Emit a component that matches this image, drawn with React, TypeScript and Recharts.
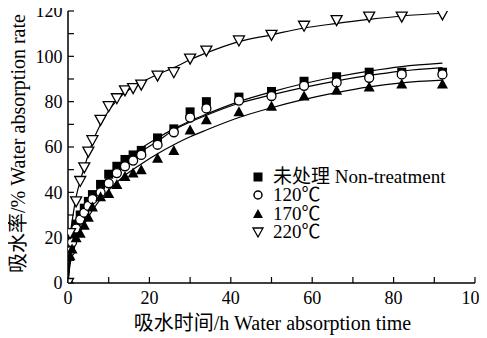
import React from 'react';
import { ComposedChart, Line, Scatter, XAxis, YAxis, Legend } from 'recharts';

// measured sample times (h)
const timesMain = [0, 0.5, 1, 2, 3, 4, 5, 6, 8, 10, 12, 14, 16, 18, 22, 26, 30, 34, 42, 50, 58, 66, 74, 82, 92];
const times220 = [0, 0.5, 2, 3, 4, 5, 6, 8, 10, 12, 14, 16, 18, 22, 26, 30, 34, 42, 50, 58, 66, 74, 82, 92];

// measured water absorption rate (%)
const nonTreatment = [0, 16.5, 20, 26, 30, 33, 36, 39, 43.5, 48, 51.5, 54.5, 56.5, 58.5, 64, 68, 75.5, 80, 82, 84.5, 89, 91, 93, 93, 93];
const t120 = [0, 14, 18, 24, 28, 31, 34, 37, 40, 44, 48.5, 51.5, 54, 56.5, 61, 66.5, 73, 77, 80.5, 82.5, 87, 88.5, 90.5, 92, 92];
const t170 = [0, 12, 15, 20, 22, 25.5, 29, 33.5, 38, 39.5, 43.5, 47, 48.5, 50, 55, 58.5, 67.5, 72, 75.5, 78, 82.5, 85, 86.5, 87.8, 87.8];
const t220 = [0, 22, 36, 45, 51, 58, 63, 72, 78, 81.5, 85, 86, 87.5, 91.5, 93, 99, 102.5, 107, 109.5, 113.5, 116, 117.5, 117.5, 118.5];

// fitted curves
const fitTimes = [0, 0.5, 1, 2, 3, 4, 6, 8, 10, 14, 18, 22, 26, 30, 34, 42, 50, 58, 66, 74, 82, 92];
const fitNon = [0, 11, 16, 23, 28, 32, 38, 43, 47, 54, 59.5, 64, 68, 71.5, 74.5, 80, 84.3, 88, 91, 93.5, 95.5, 97];
const fit120 = [0, 10.5, 15, 22, 27, 31, 37, 42, 46, 52.5, 58, 62.5, 67.5, 71, 74, 79.3, 83, 86.3, 89.2, 91.6, 93.5, 95];
const fit170 = [0, 8, 12, 18, 22.5, 26, 32, 37, 41, 47.5, 52.5, 57, 61, 64.5, 67.5, 73, 77.3, 81, 84, 86.5, 88.3, 89.5];
const fit220 = [0, 20, 27, 38, 45, 51, 62, 70, 76, 84, 88.5, 92, 95, 98.5, 101.5, 106.5, 109.5, 112.5, 114.5, 116.3, 117.8, 119];

const xTicks = [0, 10, 20, 30, 40, 50, 60, 70, 80, 90, 100];
const yTicks = [0, 10, 20, 30, 40, 50, 60, 70, 80, 90, 100, 110, 120];
const legendLabels = ['未处理 Non-treatment', '120℃', '170℃', '220℃'];
const xLabel = '吸水时间/h Water absorption time';
const yLabel = '吸水率/% Water absorption rate';

const FONT = '"Liberation Serif", "Times New Roman", "Noto Sans CJK SC", serif';

const zip = (xs: number[], ys: number[]) => xs.map((x, i) => ({ x, y: ys[i] }));

const W = 487;
const H = 338;
const M = { top: 11, right: 12, bottom: 5, left: 18 };
const YW = 50;
const XH = 50;
const AXIS_X = M.left + YW;
const AXIS_Y = H - M.bottom - XH;

const SquareShape = (p: any) => <rect x={p.cx - 4.5} y={p.cy - 4.5} width={9} height={9} fill="#000" />;
const CircleShape = (p: any) => <circle cx={p.cx} cy={p.cy} r={4.5} fill="#fff" stroke="#000" strokeWidth={1.3} />;
const TriUpShape = (p: any) => (
  <polygon points={`${p.cx},${p.cy - 5.5} ${p.cx - 5.5},${p.cy + 4.5} ${p.cx + 5.5},${p.cy + 4.5}`} fill="#000" />
);
const TriDownShape = (p: any) => (
  <polygon
    points={`${p.cx - 5.5},${p.cy - 4.5} ${p.cx + 5.5},${p.cy - 4.5} ${p.cx},${p.cy + 5.5}`}
    fill="#fff"
    stroke="#000"
    strokeWidth={1.3}
  />
);

const XTick = (p: any) => {
  const v = p.payload.value;
  return (
    <g>
      <line x1={p.x} x2={p.x} y1={AXIS_Y} y2={AXIS_Y - 6} stroke="#000" strokeWidth={1.2} />
      {v % 20 === 0 && (
        <text x={p.x} y={AXIS_Y + 15} dy="0.35em" textAnchor="middle" fontSize={18} fontFamily={FONT} fill="#000">
          {v}
        </text>
      )}
    </g>
  );
};

const YTick = (p: any) => {
  const v = p.payload.value;
  return (
    <g>
      <line x1={AXIS_X} x2={AXIS_X + 6} y1={p.y} y2={p.y} stroke="#000" strokeWidth={1.2} />
      {v % 20 === 0 && (
        <text x={AXIS_X - 5.5} y={p.y} dy="0.35em" textAnchor="end" fontSize={18} fontFamily={FONT} fill="#000">
          {v}
        </text>
      )}
    </g>
  );
};

const markerFor = (i: number) => {
  const c = 7;
  if (i === 0) return <rect x={c - 4.5} y={c - 4.5} width={9} height={9} fill="#000" />;
  if (i === 1) return <circle cx={c} cy={c} r={4} fill="#fff" stroke="#000" strokeWidth={1.5} />;
  if (i === 2) return <polygon points={`${c},${c - 5} ${c - 5},${c + 4} ${c + 5},${c + 4}`} fill="#000" />;
  return <polygon points={`${c - 5},${c - 4} ${c + 5},${c - 4} ${c},${c + 5}`} fill="#fff" stroke="#000" strokeWidth={1.3} />;
};

const LegendBox = () => (
  <div style={{ fontFamily: FONT, fontSize: 19, color: '#000' }}>
    {legendLabels.map((l, i) => (
      <div key={l} style={{ display: 'flex', alignItems: 'center', height: 18.3, overflow: 'visible', whiteSpace: 'nowrap' }}>
        <svg width={14} height={14} style={{ marginRight: 8 }}>
          {markerFor(i)}
        </svg>
        <span style={{ display: 'block', height: 18, lineHeight: '18px', overflow: 'visible' }}>{l}</span>
      </div>
    ))}
  </div>
);

const XLabel = () => (
  <text x={272.5} y={323} dy="0.35em" textAnchor="middle" fontSize={20} fontFamily={FONT} fill="#000">
    {xLabel}
  </text>
);

const YLabel = () => {
  const cy = 143.5;
  const cx = 18;
  return (
    <text
      x={cx}
      y={cy}
      dy="0.35em"
      textAnchor="middle"
      transform={`rotate(-90, ${cx}, ${cy})`}
      fontSize={20}
      fontFamily={FONT}
      fill="#000"
    >
      {yLabel}
    </text>
  );
};

export default function App() {
  return (
    <div style={{ width: W, height: H, position: 'relative', left: -8, top: -8 }}>
      <ComposedChart width={W} height={H} margin={M}>
        <XAxis
          type="number"
          dataKey="x"
          domain={[0, 100]}
          ticks={xTicks}
          interval={0}
          height={XH}
          tickLine={false}
          axisLine={{ stroke: '#000', strokeWidth: 1.5 }}
          tick={<XTick />}
          label={<XLabel />}
          allowDataOverflow
        />
        <YAxis
          type="number"
          dataKey="y"
          domain={[0, 120]}
          ticks={yTicks}
          interval={0}
          width={YW}
          tickLine={false}
          axisLine={{ stroke: '#000', strokeWidth: 1.5 }}
          tick={<YTick />}
          label={<YLabel />}
          allowDataOverflow
        />
        <Line data={zip(fitTimes, fitNon)} dataKey="y" type="monotone" stroke="#000" strokeWidth={1.2} dot={false} isAnimationActive={false} legendType="none" />
        <Line data={zip(fitTimes, fit120)} dataKey="y" type="monotone" stroke="#000" strokeWidth={1.2} dot={false} isAnimationActive={false} legendType="none" />
        <Line data={zip(fitTimes, fit170)} dataKey="y" type="monotone" stroke="#000" strokeWidth={1.2} dot={false} isAnimationActive={false} legendType="none" />
        <Line data={zip(fitTimes, fit220)} dataKey="y" type="monotone" stroke="#000" strokeWidth={1.2} dot={false} isAnimationActive={false} legendType="none" />
        <Scatter name={legendLabels[0]} data={zip(timesMain, nonTreatment)} dataKey="y" shape={SquareShape} isAnimationActive={false} />
        <Scatter name={legendLabels[1]} data={zip(timesMain, t120)} dataKey="y" shape={CircleShape} isAnimationActive={false} />
        <Scatter name={legendLabels[2]} data={zip(timesMain, t170)} dataKey="y" shape={TriUpShape} isAnimationActive={false} />
        <Scatter name={legendLabels[3]} data={zip(times220, t220)} dataKey="y" shape={TriDownShape} isAnimationActive={false} />
        <Legend
          layout="horizontal"
          verticalAlign="middle"
          align="center"
          content={() => <LegendBox />}
          wrapperStyle={{ position: 'absolute', left: 251, top: 168, width: 'auto', height: 'auto' }}
        />
      </ComposedChart>
    </div>
  );
}
